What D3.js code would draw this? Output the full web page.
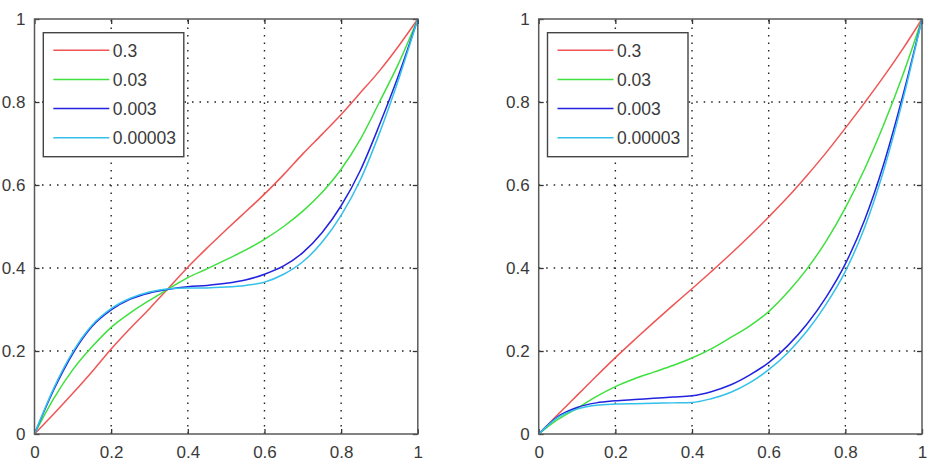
<!DOCTYPE html>
<html>
<head>
<meta charset="utf-8">
<script src="https://cdn.jsdelivr.net/npm/d3@7"></script>
<style>
  body { margin: 0; background: #fff; }
  svg text { font-family: "Liberation Sans", Arial, sans-serif; fill: #3a3a3a; }
</style>
</head>
<body>
<div id="chart"></div>
<script>
"use strict";

// sample points along x (every 0.05)
const xs = [0, 0.05, 0.1, 0.15, 0.2, 0.25, 0.3, 0.35, 0.4, 0.45, 0.5,
            0.55, 0.6, 0.65, 0.7, 0.75, 0.8, 0.85, 0.9, 0.95, 1];

const seriesNames = ["0.3", "0.03", "0.003", "0.00003"];
const seriesColors = ["#f05555", "#3ee03e", "#2222e0", "#33c0ea"];

const tickValues = [0, 0.2, 0.4, 0.6, 0.8, 1];

// left panel
const left03 =    [0, 0.048, 0.098, 0.15, 0.205, 0.255, 0.302, 0.352, 0.402, 0.448, 0.492,
                   0.535, 0.578, 0.625, 0.675, 0.722, 0.77, 0.822, 0.875, 0.935, 1];
const left003 =   [0, 0.085, 0.155, 0.21, 0.257, 0.292, 0.322, 0.35, 0.377, 0.398, 0.42,
                   0.443, 0.469, 0.5, 0.537, 0.582, 0.638, 0.71, 0.8, 0.893, 1];
const left0003 =  [0, 0.106, 0.194, 0.259, 0.299, 0.325, 0.34, 0.349, 0.355, 0.358, 0.363,
                   0.371, 0.385, 0.405, 0.437, 0.485, 0.55, 0.635, 0.745, 0.865, 1];
const left00003 = [0, 0.11, 0.198, 0.262, 0.302, 0.327, 0.342, 0.35, 0.352, 0.352, 0.354,
                   0.358, 0.366, 0.385, 0.415, 0.462, 0.527, 0.612, 0.725, 0.855, 1];

// right panel
const right03 =    [0, 0.047, 0.093, 0.139, 0.184, 0.227, 0.269, 0.31, 0.35, 0.391, 0.433,
                    0.477, 0.523, 0.571, 0.623, 0.678, 0.737, 0.798, 0.861, 0.928, 1];
const right003 =   [0, 0.035, 0.062, 0.09, 0.114, 0.133, 0.149, 0.165, 0.183, 0.205, 0.232,
                    0.26, 0.295, 0.342, 0.398, 0.465, 0.545, 0.638, 0.745, 0.865, 1];
const right0003 =  [0, 0.042, 0.064, 0.075, 0.08, 0.083, 0.086, 0.089, 0.092, 0.102, 0.118,
                    0.142, 0.172, 0.213, 0.265, 0.33, 0.41, 0.515, 0.65, 0.815, 1];
const right00003 = [0, 0.04, 0.06, 0.069, 0.072, 0.073, 0.074, 0.075, 0.076, 0.085, 0.1,
                     0.123, 0.155, 0.196, 0.248, 0.313, 0.392, 0.497, 0.635, 0.805, 1];

const panels = [
    { x0: 34.5, series: [left03, left003, left0003, left00003] },
    { x0: 538.7, series: [right03, right003, right0003, right00003] }
];

const W = 932, H = 472;
const plotW = 383.3, plotTop = 19, plotBottom = 434;

let svg = d3.select("#chart")
    .append("svg")
    .attr("width", W)
    .attr("height", H);

panels.forEach(function (p) {
    let x = d3.scaleLinear().domain([0, 1]).range([p.x0, p.x0 + plotW]);
    let y = d3.scaleLinear().domain([0, 1]).range([plotBottom, plotTop]);
    let g = svg.append("g");

    // dotted grid
    let grid = g.append("g")
        .attr("stroke", "#222")
        .attr("stroke-width", 1.4)
        .attr("stroke-dasharray", "1.5,6");
    grid.selectAll(".gx")
        .data(tickValues.slice(1, -1))
        .enter().append("line")
        .attr("x1", d => x(d)).attr("x2", d => x(d))
        .attr("y1", plotBottom).attr("y2", plotTop);
    grid.selectAll(".gy")
        .data(tickValues.slice(1, -1))
        .enter().append("line")
        .attr("y1", d => y(d)).attr("y2", d => y(d))
        .attr("x1", x(0)).attr("x2", x(1));

    // axes: bottom / left with labels, inward ticks on all sides
    g.append("g")
        .attr("transform", "translate(0," + plotBottom + ")")
        .call(d3.axisBottom(x).tickValues(tickValues).tickSize(-5).tickPadding(12)
            .tickFormat(d3.format("~g")));
    g.append("g")
        .attr("transform", "translate(0," + plotTop + ")")
        .call(d3.axisTop(x).tickValues(tickValues).tickSize(-5).tickFormat(""));
    g.append("g")
        .attr("transform", "translate(" + x(0) + ",0)")
        .call(d3.axisLeft(y).tickValues(tickValues).tickSize(-5).tickPadding(9)
            .tickFormat(d3.format("~g")));
    g.append("g")
        .attr("transform", "translate(" + x(1) + ",0)")
        .call(d3.axisRight(y).tickValues(tickValues).tickSize(-5).tickFormat(""));

    g.selectAll(".domain").remove();
    g.selectAll(".tick line").attr("stroke", "#333").attr("stroke-width", 1.3);
    g.selectAll(".tick text")
        .attr("font-size", 17)
        .attr("fill", "#3a3a3a")
        .attr("font-family", "Liberation Sans, Arial, sans-serif");

    // curves
    let line = d3.line()
        .x((d, i) => x(xs[i]))
        .y(d => y(d))
        .curve(d3.curveMonotoneX);
    g.selectAll(".curve")
        .data(p.series)
        .enter().append("path")
        .attr("fill", "none")
        .attr("stroke", (d, i) => seriesColors[i])
        .attr("stroke-width", 1.5)
        .attr("d", line);

    // box
    g.append("rect")
        .attr("x", x(0)).attr("y", plotTop)
        .attr("width", plotW).attr("height", plotBottom - plotTop)
        .attr("fill", "none")
        .attr("stroke", "#5a5a5a")
        .attr("stroke-width", 1.5);

    // legend
    let lg = g.append("g")
        .attr("transform", "translate(" + (x(0) + 8.8) + "," + (plotTop + 13.7) + ")");
    lg.append("rect")
        .attr("width", 140.5).attr("height", 124)
        .attr("fill", "#fff")
        .attr("stroke", "#444")
        .attr("stroke-width", 1.4);
    let rows = lg.selectAll(".row")
        .data(seriesNames)
        .enter().append("g")
        .attr("transform", (d, i) => "translate(0," + (17.5 + i * 29.2) + ")");
    rows.append("line")
        .attr("x1", 10).attr("x2", 66)
        .attr("stroke", (d, i) => seriesColors[i])
        .attr("stroke-width", 1.5);
    rows.append("text")
        .attr("x", 69.5)
        .attr("dy", "0.36em")
        .attr("font-size", 17.5)
        .text(d => d);
});
</script>
</body>
</html>
